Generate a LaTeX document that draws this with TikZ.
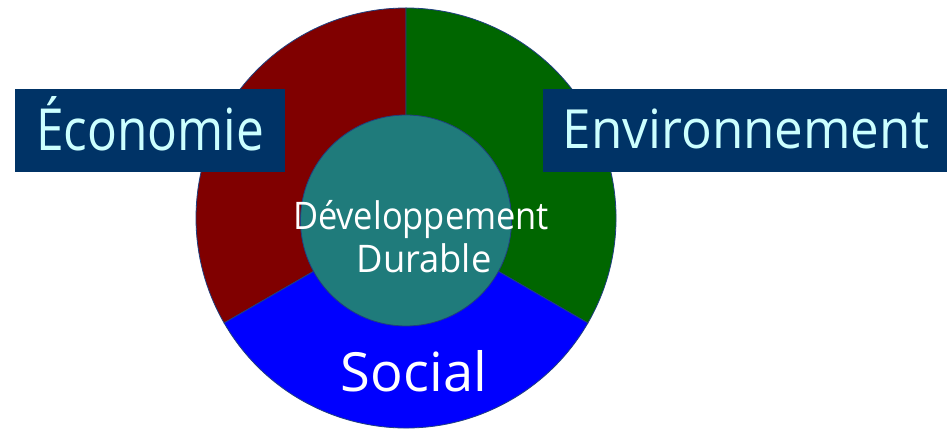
\documentclass[tikz,border=0pt]{standalone}
\usepackage{fontspec}
\usepackage{graphicx}
\setmainfont{Open Sans}
\definecolor{eco}{HTML}{800000}
\definecolor{env}{HTML}{006600}
\definecolor{soc}{HTML}{0000FF}
\definecolor{ddc}{HTML}{1F7B7B}
\definecolor{boxc}{HTML}{003366}
\definecolor{lbl}{HTML}{CCFFFF}
\definecolor{edgec}{HTML}{1F3F7F}
\newcommand\fitw[2]{\resizebox{#1}{\height}{#2}}
\begin{document}
\begin{tikzpicture}[x=1pt,y=1pt,
  sector/.style={draw=edgec, line width=0.8pt},
  labelbox/.style={fill=boxc, draw=none, inner sep=0pt, anchor=north west},
  txt/.style={anchor=base, inner sep=0pt}]
\useasboundingbox (0,0) rectangle (949,430);
\fill[white] (0,0) rectangle (949,430);
\coordinate (C) at (406,212);
\filldraw[sector, fill=eco] (C) -- ++(90:210) arc[start angle=90,end angle=210,radius=210] -- cycle;
\filldraw[sector, fill=env] (C) -- ++(-30:210) arc[start angle=-30,end angle=90,radius=210] -- cycle;
\filldraw[sector, fill=soc] (C) -- ++(210:210) arc[start angle=210,end angle=330,radius=210] -- cycle;
\node[circle, fill=ddc, draw=edgec, line width=0.8pt, minimum size=211pt, inner sep=0pt] (dd) at (406,209.5) {};
\node[labelbox, minimum width=270pt, minimum height=83pt] (ecobox) at (15,341) {};
\node[labelbox, minimum width=404pt, minimum height=83pt] (envbox) at (543,341) {};
\node[txt, text=lbl, font=\fontsize{58}{60}\selectfont] (ecotxt) at (150,279) {\fitw{228pt}{Économie}};
\node[txt, text=lbl, font=\fontsize{54}{56}\selectfont] (envtxt) at (746,281) {\fitw{366pt}{Environnement}};
\node[txt, text=white, font=\fontsize{38}{40}\selectfont] (ddtxt1) at (421,200) {\fitw{256pt}{Développement}};
\node[txt, text=white, font=\fontsize{38}{40}\selectfont] (ddtxt2) at (424,157) {\fitw{135pt}{Durable}};
\node[txt, text=white, font=\fontsize{54}{56}\selectfont] (soctxt) at (414,38) {\fitw{146pt}{Social}};
\end{tikzpicture}
\end{document}
